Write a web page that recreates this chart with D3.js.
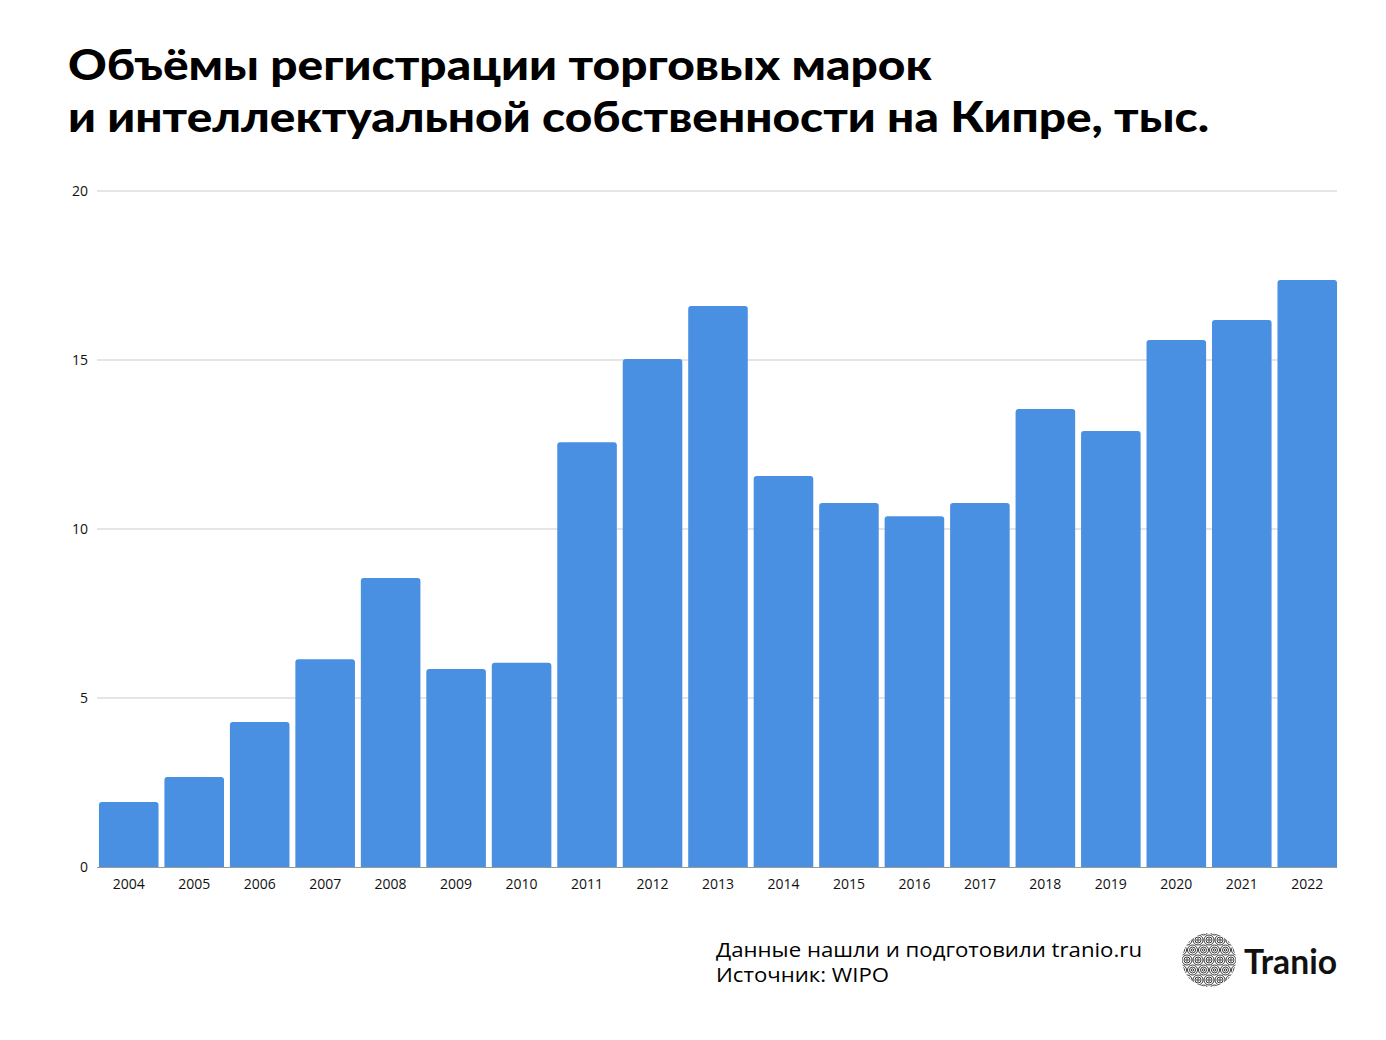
<!DOCTYPE html>
<html><head><meta charset="utf-8">
<script src="https://cdn.jsdelivr.net/npm/d3@7"></script>
<style>
html,body{margin:0;padding:0;background:#fff;}
svg{display:block;font-family:"Lato","Open Sans",sans-serif;}
</style></head><body>
<svg id="chart" width="1386" height="1040"></svg>
<script>
const years = ["2004","2005","2006","2007","2008","2009","2010","2011","2012","2013","2014","2015","2016","2017","2018","2019","2020","2021","2022"];
const values = [1.92,2.66,4.29,6.15,8.55,5.86,6.04,12.57,15.03,16.6,11.57,10.77,10.38,10.77,13.55,12.9,15.59,16.18,17.37];
const yTicks = [0,5,10,15,20];
const titleLines = ["Объёмы регистрации торговых марок","и интеллектуальной собственности на Кипре, тыс."];
const footerLines = ["Данные нашли и подготовили tranio.ru","Источник: WIPO"];
const brand = "Tranio";

const svg = d3.select("#chart");
const x = d3.scaleBand().domain(years).range([96, 1340]).paddingInner(0.09).paddingOuter(0.045);
const y = d3.scaleLinear().domain([0,20]).range([867,191]);

// title
const tl = svg.append("g");
const targets = [864, 1141];
titleLines.forEach((t,i)=>{
  tl.append("text").attr("x",68).attr("y",[80,132][i])
    .attr("font-family","Lato, sans-serif").attr("font-weight",900)
    .attr("font-size",42).attr("fill","#000")
    .attr("textLength", targets[i]).attr("lengthAdjust","spacingAndGlyphs").text(t);
});

// grid
svg.append("g").selectAll("line").data(yTicks.filter(d=>d>0)).join("line")
  .attr("x1",97).attr("x2",1337).attr("y1",d=>y(d)).attr("y2",d=>y(d))
  .attr("stroke","#cccccc").attr("stroke-width",1.2);

// y labels
svg.append("g").selectAll("text").data(yTicks).join("text")
  .attr("x",88).attr("y",d=>y(d)).attr("dy","0.35em").attr("text-anchor","end")
  .attr("font-family","Open Sans, sans-serif")
  .attr("font-size",14).attr("fill","#111").text(d=>d);

// bars with rounded top corners
const r = 3;
svg.append("g").selectAll("path").data(years.map((yr,i)=>({yr,v:values[i]}))).join("path")
  .attr("fill","#4a90e2")
  .attr("d",d=>{
    const x0=x(d.yr), w=x.bandwidth(), y0=y(d.v), yb=y(0);
    return `M${x0},${yb}V${y0+r}Q${x0},${y0} ${x0+r},${y0}H${x0+w-r}Q${x0+w},${y0} ${x0+w},${y0+r}V${yb}Z`;
  });

// baseline
svg.append("line").attr("x1",97).attr("x2",1337).attr("y1",y(0)+0.5).attr("y2",y(0)+0.5)
  .attr("stroke","#999").attr("stroke-width",1);

// x labels
svg.append("g").selectAll("text").data(years).join("text")
  .attr("x",d=>x(d)+x.bandwidth()/2).attr("y",889).attr("text-anchor","middle")
  .attr("font-family","Open Sans, sans-serif")
  .attr("font-size",14).attr("fill","#111").text(d=>d);

// footer
footerLines.forEach((t,i)=>{
  const el = svg.append("text").attr("x",716).attr("y",[957,982][i])
    .attr("font-family","Open Sans, sans-serif")
    .attr("font-size",20).attr("fill","#000").text(t);
  el.attr("textLength",[426,173][i]).attr("lengthAdjust","spacingAndGlyphs");
});

// logo
const lg = svg.append("g");
const cx=1209, cy=960, R=27;
svg.append("defs").append("clipPath").attr("id","lc").append("ellipse")
  .attr("cx",cx).attr("cy",cy).attr("rx",R).attr("ry",R);
const pat = lg.append("g").attr("clip-path","url(#lc)");
const centers=[];
for(let gy=-3;gy<=3;gy++) for(let gx=-3;gx<=3;gx++){
  centers.push([cx+gx*11+(gy%2?5.5:0), cy+gy*10]);
}
centers.forEach(c=>{
  [5,3,1.2].forEach(rr=>{
    pat.append("circle").attr("cx",c[0]).attr("cy",c[1]).attr("r",rr)
      .attr("fill","none").attr("stroke","#222").attr("stroke-width",0.9);
  });
});
lg.append("text").attr("x",1244).attr("y",974).attr("font-size",35).attr("font-weight",700)
  .attr("fill","#111").attr("textLength",93).attr("lengthAdjust","spacingAndGlyphs").text(brand);
</script>
</body></html>
